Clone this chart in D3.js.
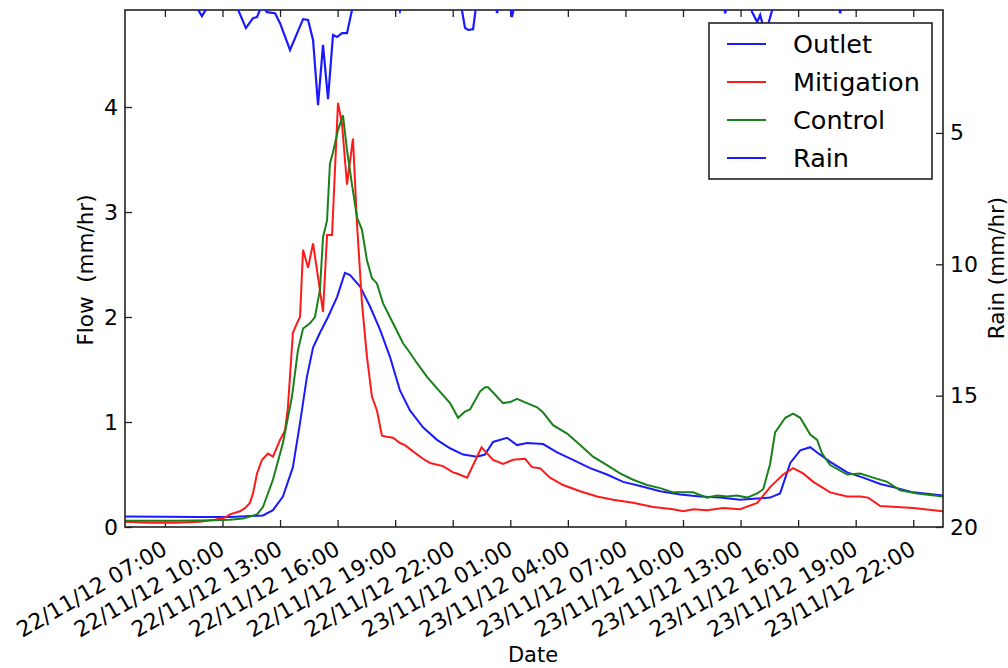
<!DOCTYPE html>
<html>
<head>
<meta charset="utf-8">
<script src="https://cdn.jsdelivr.net/npm/d3@7"></script>
<style>
  body { margin: 0; background: #fff; }
  text { font-family: "DejaVu Sans", sans-serif; fill: #000; }
</style>
</head>
<body>
<div id="chart"></div>
<script>
// times are hours counted from 22/11/12 00:00
var outletHours = [4.92, 8.82, 10.39, 12.11, 12.63, 13.15, 13.67, 14.04, 14.40, 14.72, 15.08, 15.50, 15.97, 16.38, 16.65,
  17.17, 17.69, 18.21, 18.73, 19.25, 19.77, 20.45, 21.18, 21.86, 22.54, 23.27, 23.68, 24.10, 24.83, 25.35, 25.87, 26.71,
  27.44, 28.27, 29.16, 30.04, 30.88, 31.77, 32.81, 33.85, 34.89, 35.94, 36.98, 38.54, 39.06, 39.59, 40.11, 40.63, 40.99,
  41.67, 42.56, 43.39, 44.28, 45.16, 46.00, 47.55];
var outletFlow = [0.10, 0.095, 0.095, 0.11, 0.16, 0.29, 0.57, 0.99, 1.43, 1.71, 1.85, 2.0, 2.19, 2.42, 2.40,
  2.29, 2.10, 1.88, 1.62, 1.30, 1.11, 0.95, 0.83, 0.75, 0.69, 0.67, 0.69, 0.81, 0.85, 0.78, 0.80, 0.79,
  0.71, 0.64, 0.56, 0.50, 0.43, 0.39, 0.34, 0.31, 0.29, 0.28, 0.26, 0.28, 0.32, 0.61, 0.73, 0.76, 0.71,
  0.62, 0.52, 0.47, 0.41, 0.37, 0.33, 0.30];

var mitigationHours = [4.92, 6.22, 7.52, 8.82, 9.61, 10.13, 10.39, 10.91, 11.17, 11.43, 11.59, 11.80, 12.06, 12.37, 12.63,
  13.00, 13.26, 13.41, 13.67, 13.88, 14.04, 14.20, 14.46, 14.72, 14.98, 15.24, 15.45, 15.71, 16.02, 16.23, 16.49, 16.80,
  17.01, 17.27, 17.53, 17.79, 18.05, 18.31, 18.57, 18.89, 19.25, 19.51, 19.93, 20.45, 20.82, 21.49, 22.02, 22.22, 22.75,
  23.50, 24.10, 24.62, 25.14, 25.77, 26.13, 26.55, 27.07, 27.75, 28.64, 29.52, 30.36, 31.40, 32.44, 33.49, 34.01, 34.53,
  35.26, 36.09, 36.98, 37.87, 38.54, 39.22, 39.74, 40.26, 40.79, 41.67, 42.56, 43.24, 43.65, 44.28, 45.16, 46.00, 47.55];
var mitigationFlow = [0.05, 0.04, 0.04, 0.05, 0.07, 0.09, 0.12, 0.15, 0.18, 0.23, 0.32, 0.51, 0.64, 0.70, 0.67,
  0.83, 0.92, 1.14, 1.85, 1.94, 2.0, 2.64, 2.47, 2.70, 2.38, 2.05, 2.78, 2.78, 4.04, 3.84, 3.26, 3.70,
  2.89, 2.13, 1.62, 1.24, 1.11, 0.87, 0.86, 0.85, 0.80, 0.78, 0.72, 0.65, 0.61, 0.58, 0.52, 0.51, 0.47,
  0.76, 0.64, 0.60, 0.64, 0.65, 0.57, 0.56, 0.47, 0.40, 0.34, 0.29, 0.26, 0.23, 0.19, 0.17, 0.15, 0.17,
  0.16, 0.18, 0.17, 0.23, 0.38, 0.50, 0.56, 0.51, 0.43, 0.33, 0.29, 0.29, 0.28, 0.20, 0.19, 0.18, 0.15];

var controlHours = [4.92, 7.52, 9.61, 10.39, 11.07, 11.43, 11.80, 12.11, 12.63, 13.15, 13.62, 13.93, 14.20, 14.56, 14.82,
  15.08, 15.24, 15.45, 15.60, 15.76, 16.02, 16.28, 16.49, 16.75, 17.01, 17.27, 17.53, 17.79, 18.05, 18.37, 18.89, 19.41,
  19.77, 20.14, 20.66, 21.18, 21.86, 22.28, 22.64, 22.90, 23.42, 23.68, 23.84, 24.21, 24.62, 24.99, 25.35, 25.87, 26.40,
  26.71, 27.23, 27.96, 28.64, 29.31, 30.04, 30.72, 31.40, 32.13, 32.81, 33.49, 34.53, 35.26, 35.78, 36.30, 36.82, 37.34,
  37.87, 38.18, 38.54, 38.80, 39.33, 39.74, 40.11, 40.63, 40.99, 41.25, 41.67, 42.56, 43.24, 43.91, 44.64, 45.32, 46.21, 47.55];
var controlFlow = [0.06, 0.06, 0.065, 0.07, 0.08, 0.10, 0.12, 0.19, 0.45, 0.80, 1.24, 1.68, 1.89, 1.94, 2.0,
  2.26, 2.76, 2.92, 3.46, 3.57, 3.78, 3.92, 3.59, 3.26, 2.95, 2.83, 2.54, 2.37, 2.32, 2.13, 1.94, 1.75,
  1.66, 1.56, 1.43, 1.32, 1.18, 1.04, 1.10, 1.12, 1.29, 1.33, 1.33, 1.26, 1.18, 1.19, 1.22, 1.18, 1.14,
  1.09, 0.97, 0.89, 0.78, 0.67, 0.59, 0.51, 0.45, 0.40, 0.37, 0.33, 0.33, 0.28, 0.30, 0.29, 0.30, 0.28,
  0.32, 0.36, 0.60, 0.90, 1.04, 1.08, 1.04, 0.88, 0.83, 0.70, 0.59, 0.50, 0.51, 0.47, 0.43, 0.35, 0.32, 0.29];

var rainHours = [4.92, 8.56, 8.72, 8.93, 9.14, 9.30, 10.65, 10.81, 11.22, 11.59, 11.80, 11.95, 12.10, 12.32, 12.74, 13.00,
  13.52, 14.20, 14.46, 14.72, 14.98, 15.24, 15.50, 15.76, 15.97, 16.23, 16.49, 16.75, 16.90, 19.10, 19.25, 19.40,
  22.40, 22.64, 22.80, 23.06, 23.25, 24.20, 24.31, 24.42, 24.95, 25.09, 25.25, 36.05, 36.20, 36.35, 37.45, 37.60,
  37.87, 38.02, 38.18, 38.44, 38.65, 38.80, 42.05, 42.19, 42.33, 47.55];
var rainValues = [0, 0, 0.30, 0.55, 0.30, 0, 0, 0.30, 1.01, 0.63, 0.59, 0.32, 0.20, 0.40, 0.44, 0.82,
  1.84, 0.67, 0.70, 1.46, 3.94, 1.65, 3.71, 1.27, 1.35, 1.20, 1.20, 0.32, 0, 0, 0.36, 0,
  0, 1.00, 1.08, 1.05, 0, 0, 0.44, 0, 0, 0.59, 0, 0, 0.44, 0, 0, 0.40,
  0.78, 0.51, 0.93, 0.86, 0.32, 0, 0, 0.44, 0, 0];

var seriesNames = ["Outlet", "Mitigation", "Control", "Rain"];
var seriesColors = ["#1a1aff", "#ff1a1a", "#1a801a", "#1a1aff"];

var flowTicks = [0, 1, 2, 3, 4];
var rainTicks = [5, 10, 15, 20];
var dateTicks = d3.range(7, 47, 3);

var svgWidth = 1008;
var svgHeight = 668;
var margin = { top: 10, right: 65, bottom: 141, left: 125 };
var width = svgWidth - margin.left - margin.right;
var height = svgHeight - margin.top - margin.bottom;

var start = new Date(2012, 10, 22, 0, 0);
function toDate(h) { return new Date(start.getTime() + h * 3600000); }

var svg = d3.select("#chart")
  .append("svg")
  .attr("width", svgWidth)
  .attr("height", svgHeight);

var chartGroup = svg.append("g")
  .attr("transform", `translate(${margin.left}, ${margin.top})`);

chartGroup.append("clipPath").attr("id", "plotclip")
  .append("rect").attr("width", width).attr("height", height);

// scales
var xTimeScale = d3.scaleTime()
  .domain([toDate(4.92), toDate(47.55)])
  .range([0, width]);
var yFlowScale = d3.scaleLinear().domain([0, 4.924]).range([height, 0]);
var yRainScale = d3.scaleLinear().domain([0.32, 20]).range([0, height]);

var fmt = d3.timeFormat("%d/%m/%y %H:%M");

// axes (ticks point inwards, like matplotlib)
var bottomAxis = d3.axisBottom(xTimeScale)
  .tickValues(dateTicks.map(toDate))
  .tickSize(-7)
  .tickFormat(fmt);
var topAxis = d3.axisTop(xTimeScale)
  .tickValues(dateTicks.map(toDate))
  .tickSize(-7)
  .tickFormat("");
var leftAxis = d3.axisLeft(yFlowScale).tickValues(flowTicks).tickSize(-7).tickPadding(7)
  .tickFormat(d3.format("d"));
var rightAxis = d3.axisRight(yRainScale).tickValues(rainTicks).tickSize(-7).tickPadding(7)
  .tickFormat(d3.format("d"));

var gx = chartGroup.append("g")
  .attr("transform", `translate(0, ${height})`)
  .call(bottomAxis);

var gt = chartGroup.append("g").call(topAxis);
var gl = chartGroup.append("g").call(leftAxis);
var gr = chartGroup.append("g").attr("transform", `translate(${width}, 0)`).call(rightAxis);

[gx, gt, gl, gr].forEach(function(g) {
  g.select(".domain").remove();
  g.selectAll("line").attr("stroke", "#222").attr("stroke-width", 1.3);
  g.selectAll("text").style("font-size", "22px").style("font-family", "DejaVu Sans, sans-serif").attr("fill", "#000");
});

gx.selectAll("text")
  .attr("x", 0).attr("y", 0).attr("dy", "0.75em")
  .attr("text-anchor", "end")
  .attr("transform", "translate(-5, 12) rotate(-30)");

// flow lines
function flowLine(hours, vals) {
  return d3.line()
    .x(function(d, i) { return xTimeScale(toDate(hours[i])); })
    .y(function(d) { return yFlowScale(d); })(vals);
}

var plotG = chartGroup.append("g").attr("clip-path", "url(#plotclip)");
plotG.append("path").attr("d", flowLine(outletHours, outletFlow))
  .attr("fill", "none").attr("stroke", seriesColors[0]).attr("stroke-width", 2);
plotG.append("path").attr("d", flowLine(mitigationHours, mitigationFlow))
  .attr("fill", "none").attr("stroke", seriesColors[1]).attr("stroke-width", 2);
plotG.append("path").attr("d", flowLine(controlHours, controlFlow))
  .attr("fill", "none").attr("stroke", seriesColors[2]).attr("stroke-width", 2);

// spines
chartGroup.append("rect")
  .attr("width", width).attr("height", height)
  .attr("fill", "none").attr("stroke", "#222").attr("stroke-width", 1.6);

// legend
var legend = svg.append("g").attr("transform", "translate(709, 23)");
legend.append("rect")
  .attr("width", 223).attr("height", 156)
  .attr("fill", "#fff").attr("stroke", "#222").attr("stroke-width", 1.6);
seriesNames.forEach(function(name, i) {
  var yy = 21 + i * 38;
  legend.append("line")
    .attr("x1", 18).attr("x2", 57).attr("y1", yy).attr("y2", yy)
    .attr("stroke", seriesColors[i]).attr("stroke-width", 2);
  legend.append("text")
    .attr("x", 84).attr("y", yy + 9)
    .style("font-size", "25.5px")
    .text(name);
});

// rain on the inverted right axis, drawn above everything like a twin axis
var rainLine = d3.line()
  .x(function(d, i) { return xTimeScale(toDate(rainHours[i])); })
  .y(function(d) { return yRainScale(d); });
chartGroup.append("g").attr("clip-path", "url(#plotclip)")
  .append("path").attr("d", rainLine(rainValues))
  .attr("fill", "none").attr("stroke", seriesColors[3]).attr("stroke-width", 2.2);

// axis labels
svg.append("text")
  .attr("transform", "translate(93, 270) rotate(-90)")
  .attr("text-anchor", "middle")
  .style("font-size", "21.5px")
  .style("white-space", "pre")
  .text("Flow  (mm/hr)");

svg.append("text")
  .attr("transform", "translate(1004, 268) rotate(-90)")
  .attr("text-anchor", "middle")
  .style("font-size", "21.5px")
  .text("Rain (mm/hr)");

svg.append("text")
  .attr("x", 533).attr("y", 662)
  .attr("text-anchor", "middle")
  .style("font-size", "21px")
  .text("Date");
</script>
</body>
</html>
